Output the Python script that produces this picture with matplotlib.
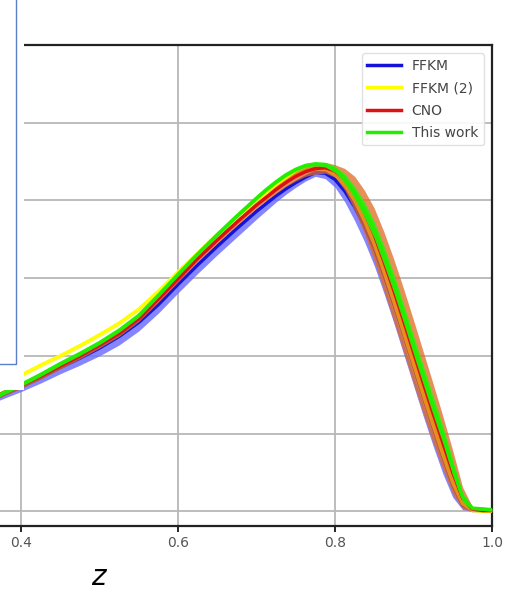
import numpy as np
import matplotlib
matplotlib.use("Agg")
import matplotlib.pyplot as plt
from matplotlib.patches import Rectangle
from matplotlib.lines import Line2D

# momentum fraction grid shared by all curves
z = [0.35, 0.375, 0.40, 0.425, 0.45, 0.475, 0.50, 0.525, 0.55, 0.575, 0.60,
     0.625, 0.65, 0.675, 0.70, 0.7125, 0.725, 0.7375, 0.75, 0.7625, 0.775,
     0.7875, 0.80, 0.8125, 0.825, 0.8375, 0.85, 0.8625, 0.875, 0.8875, 0.90,
     0.9125, 0.925, 0.9375, 0.95, 0.9625, 0.975, 0.9875, 1.0]

# FFKM (blue) with its asymmetric band
ffkm = [1.37, 1.49, 1.60, 1.72, 1.85, 1.97, 2.10, 2.25, 2.43, 2.66, 2.92,
        3.17, 3.41, 3.64, 3.86, 3.96, 4.06, 4.15, 4.23, 4.30, 4.36,
        4.35, 4.27, 4.12, 3.92, 3.67, 3.38, 3.03, 2.66, 2.27, 1.87,
        1.47, 1.08, 0.70, 0.34, 0.08, 0.01, 0.01, 0.01]
ffkm_lo = [1.33, 1.44, 1.54, 1.65, 1.77, 1.88, 2.00, 2.14, 2.32, 2.55, 2.81,
           3.06, 3.30, 3.53, 3.76, 3.87, 3.98, 4.08, 4.17, 4.25, 4.31,
           4.28, 4.17, 3.98, 3.74, 3.47, 3.16, 2.80, 2.42, 2.02, 1.62,
           1.22, 0.84, 0.48, 0.18, 0.02, 0.0, 0.0, 0.0]
ffkm_hi = [1.39, 1.51, 1.62, 1.74, 1.87, 1.99, 2.12, 2.27, 2.45, 2.68, 2.94,
           3.19, 3.43, 3.66, 3.88, 3.98, 4.08, 4.17, 4.25, 4.32, 4.38,
           4.38, 4.31, 4.18, 3.99, 3.75, 3.47, 3.13, 2.76, 2.37, 1.97,
           1.57, 1.17, 0.79, 0.41, 0.12, 0.02, 0.02, 0.02]

# FFKM (2) (yellow)
ffkm2 = [1.48, 1.62, 1.75, 1.88, 2.00, 2.13, 2.27, 2.42, 2.60, 2.83, 3.08,
         3.32, 3.56, 3.79, 4.00, 4.10, 4.20, 4.29, 4.36, 4.41, 4.43,
         4.41, 4.34, 4.20, 4.00, 3.74, 3.44, 3.08, 2.70, 2.30, 1.90,
         1.50, 1.11, 0.73, 0.37, 0.10, 0.01, 0.0, 0.0]
ffkm2_err = [0.03] * 21 + [0.04, 0.05, 0.08, 0.10, 0.12, 0.14, 0.15, 0.15, 0.15,
                           0.15, 0.14, 0.12, 0.10, 0.08, 0.04, 0.01, 0.01, 0.01]

# CNO (red)
cno = [1.39, 1.51, 1.62, 1.74, 1.87, 2.00, 2.14, 2.29, 2.48, 2.73, 2.99,
       3.25, 3.49, 3.72, 3.94, 4.04, 4.14, 4.23, 4.31, 4.37, 4.41,
       4.42, 4.38, 4.27, 4.09, 3.85, 3.56, 3.21, 2.84, 2.45, 2.05,
       1.65, 1.26, 0.88, 0.50, 0.17, 0.03, 0.01, 0.01]
cno_err = [0.04] * 15 + [0.04, 0.05, 0.05, 0.06, 0.06, 0.07, 0.07, 0.08,
                         0.14, 0.22, 0.28, 0.34, 0.38, 0.40, 0.41, 0.41, 0.40,
                         0.38, 0.34, 0.28, 0.14, 0.03, 0.02, 0.02]

# This work (green)
this_work = [1.38, 1.51, 1.63, 1.76, 1.90, 2.03, 2.17, 2.33, 2.52, 2.78, 3.05,
             3.31, 3.56, 3.80, 4.03, 4.14, 4.24, 4.33, 4.40, 4.45, 4.47,
             4.46, 4.40, 4.28, 4.10, 3.88, 3.62, 3.29, 2.93, 2.54, 2.14,
             1.75, 1.36, 0.98, 0.56, 0.18, 0.04, 0.03, 0.02]
this_work_err = [0.025] * 21 + [0.03, 0.04, 0.06, 0.08, 0.10, 0.11, 0.12, 0.12, 0.12,
                                0.12, 0.12, 0.12, 0.11, 0.10, 0.06, 0.02, 0.02, 0.02]

xticks = [0.4, 0.6, 0.8, 1.0]
yticks = [0, 1, 2, 3, 4, 5, 6]

W, H = 519, 592
fig = plt.figure(figsize=(W / 100, H / 100), dpi=100)
# axes runs off the left edge of the picture (cropped screenshot)
ax = fig.add_axes([-293 / W, (H - 526) / H, 785 / W, 481 / H])

zz = np.array(z)

def band(vals, err):
    v = np.array(vals)
    e = np.array(err)
    return v - e, v + e

ax.fill_between(zz, ffkm_lo, ffkm_hi, color="#7070ff", alpha=0.85, lw=0, zorder=2)
ax.plot(zz, ffkm, color="#1414d8", lw=2.5, label="FFKM", zorder=3)

lo, hi = band(ffkm2, ffkm2_err)
ax.fill_between(zz, lo, hi, color="#f5f07a", alpha=0.7, lw=0, zorder=2)
ax.plot(zz, ffkm2, color="#ffff00", lw=2.5, label="FFKM (2)", zorder=3)

lo, hi = band(cno, cno_err)
ax.fill_between(zz, lo, hi, color="#e06a22", alpha=0.75, lw=0, zorder=3)
ax.plot(zz, cno, color="#dd1111", lw=2.5, label="CNO", zorder=4)

lo, hi = band(this_work, this_work_err)
ax.fill_between(zz, lo, hi, color="#33ee11", alpha=0.9, lw=0, zorder=5)
ax.plot(zz, this_work, color="#22ee00", lw=2.5, label="This work", zorder=6)

ax.set_xlim(0, 1.0)
ax.set_ylim(-0.19, 6.0)
ax.set_xticks(xticks)
ax.set_xticklabels(["0.4", "0.6", "0.8", "1.0"])
ax.set_yticks(yticks)
ax.tick_params(axis="x", labelsize=10, labelcolor="#555555", length=4, width=1.2)
ax.tick_params(axis="y", labelleft=False, length=0)
ax.grid(True, color="#b8b8b8", lw=1.3)
ax.set_axisbelow(True)
for s in ax.spines.values():
    s.set_linewidth(1.6)
    s.set_color("#222222")
ax.set_xlabel("$z$", fontsize=20, labelpad=9)

leg = ax.legend(loc="upper right", fontsize=10, handlelength=2.4, labelspacing=0.6,
                borderaxespad=0.6, framealpha=0.9, edgecolor="#dddddd")
for t in leg.get_texts():
    t.set_color("#444444")

# white screenshot overlay with blue frame on the left
fig.add_artist(Rectangle((0, (H - 390) / H), 24 / W, 390 / H, transform=fig.transFigure,
                         facecolor="white", edgecolor="none", zorder=10))
fig.add_artist(Line2D([0, 16 / W, 16 / W], [(H - 364) / H, (H - 364) / H, 1.0],
                      transform=fig.transFigure, color="#5b7fc9", lw=1.0, zorder=11))

fig.savefig("out.png", dpi=100)
